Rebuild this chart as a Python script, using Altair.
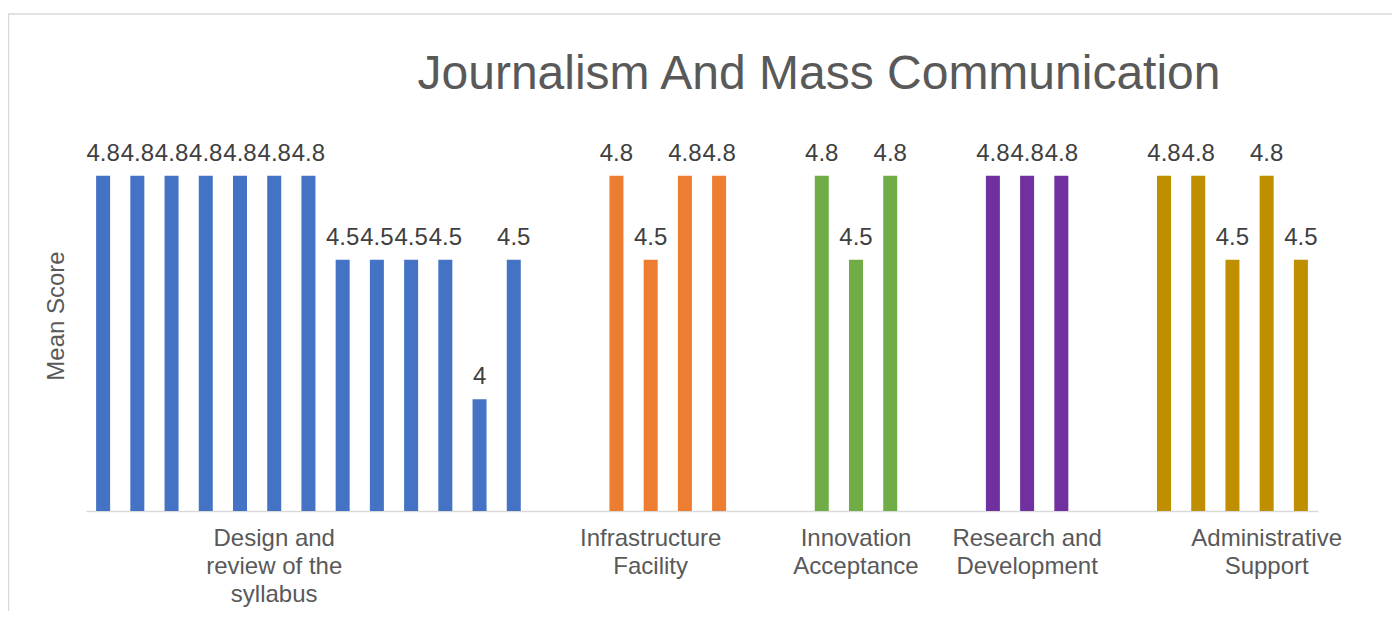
import altair as alt
import pandas as pd

# ---- data ----
group_names = ["Design and review of the syllabus", "Infrastructure Facility",
               "Innovation Acceptance", "Research and Development", "Administrative Support"]
label_lines = [["Design and", "review of the", "syllabus"],
               ["Infrastructure", "Facility"],
               ["Innovation", "Acceptance"],
               ["Research and", "Development"],
               ["Administrative", "Support"]]
design_vals = [4.8, 4.8, 4.8, 4.8, 4.8, 4.8, 4.8, 4.5, 4.5, 4.5, 4.5, 4.0, 4.5]
infra_vals = [4.8, 4.5, 4.8, 4.8]
innov_vals = [4.8, 4.5, 4.8]
research_vals = [4.8, 4.8, 4.8]
admin_vals = [4.8, 4.8, 4.5, 4.8, 4.5]
group_colors = ["#4472C4", "#ED7D31", "#70AD47", "#7030A0", "#BF8F00"]
label_slots = [5, 16, 22, 27, 34]   # category slots that carry the axis labels
gap_slots = 2                         # empty slots between groups
y_min, y_max = 3.6, 5.0

all_vals = [design_vals, infra_vals, innov_vals, research_vals, admin_vals]
rows = []
slot = 0
for g, vals in zip(group_names, all_vals):
    for v in vals:
        rows.append({"slot": slot, "group": g, "value": v})
        slot += 1
    slot += gap_slots
n_slots = slot - gap_slots
df = pd.DataFrame(rows)

label_expr = ""
for s, lines in zip(label_slots, label_lines):
    arr = "[" + ",".join("'" + l + "'" for l in lines) + "]"
    label_expr += f"datum.value == {s} ? {arr} : "
label_expr += "''"

FONT = "Liberation Sans"

x_enc = alt.X("slot:O",
              scale=alt.Scale(domain=list(range(n_slots)), paddingInner=0, paddingOuter=0),
              axis=alt.Axis(title=None, labelExpr=label_expr, labelAngle=0, ticks=False,
                            labelFont=FONT, labelFontSize=24, labelColor="#595959",
                            labelPadding=15, labelLineHeight=28, labelOverlap=False,
                            labelLimit=0, domainColor="#d9d9d9", domainWidth=1.5))
y_enc = alt.Y("value:Q", scale=alt.Scale(domain=[y_min, y_max], nice=False, zero=False),
              axis=alt.Axis(title="Mean Score", labels=False, ticks=False, domain=False,
                            grid=False, titleFont=FONT, titleFontSize=24,
                            titleFontWeight="normal", titleColor="#595959", titlePadding=18))

bars = alt.Chart(df).mark_bar(size=14).encode(
    x=x_enc, y=y_enc, y2=alt.datum(y_min),
    color=alt.Color("group:N", scale=alt.Scale(domain=group_names, range=group_colors), legend=None),
)
texts = alt.Chart(df).mark_text(font=FONT, fontSize=24, color="#404040", baseline="alphabetic",
                                dy=-15).encode(
    x=alt.X("slot:O"), y=alt.Y("value:Q"), text=alt.Text("value:Q", format=".1~f"))

border = alt.Chart(pd.DataFrame({"b": [0]})).mark_rect(
    fill="transparent", stroke="#d9d9d9", strokeWidth=1.5).encode(
    x=alt.value(-77.5), x2=alt.value(1420), y=alt.value(-106), y2=alt.value(640))

chart = alt.layer(border, bars, texts).properties(
    width=1232, height=391,
    title=alt.TitleParams("Journalism And Mass Communication", font=FONT, fontSize=48,
                          fontWeight="normal", color="#595959", anchor="middle",
                          dx=117, baseline="alphabetic", offset=-124),
    autosize=alt.AutoSizeParams(type="none"),
    padding={"left": 78, "top": 112, "right": 74, "bottom": 100},
).configure_view(stroke=None)

chart.save("out.html", embed_options={"renderer": "svg", "actions": False})
